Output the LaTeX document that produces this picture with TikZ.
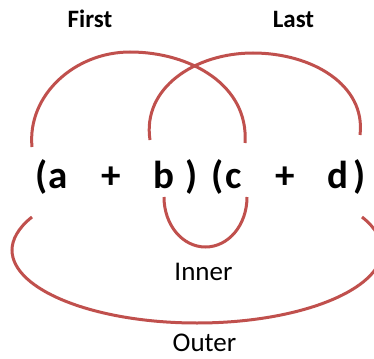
\documentclass[tikz,border=0pt]{standalone}
\usepackage{fontspec}
\setmainfont{Carlito}
\usetikzlibrary{positioning}
\definecolor{ArcRed}{HTML}{C0504D}

\begin{document}
\begin{tikzpicture}[x=1pt, y=-1pt,
    term/.style={font=\fontsize{39}{42}\selectfont\bfseries, inner sep=0pt, anchor=base},
    tag/.style={font=\fontsize{25}{28}\selectfont\bfseries, inner sep=0pt, anchor=base},
    pairtag/.style={font=\fontsize{27}{30}\selectfont, inner sep=0pt, anchor=base},
    foil/.style={draw=ArcRed, line width=3pt}
]
\useasboundingbox (0,0) rectangle (374,358);
\clip (0,0) rectangle (374,358);

% The product
\node[term] (lpA) at (42,188) {(};
\node[term] (a) at (58,188) {a};
\node[term] (plusA) at (111,188) {+};
\node[term] (b) at (164,188) {b};
\node[term] (rpA) at (191.5,188) {)};
\node[term] (lpB) at (217.5,188) {(};
\node[term] (c) at (234,188) {c};
\node[term] (plusB) at (285.5,188) {+};
\node[term] (d) at (338,188) {d};
\node[term] (rpB) at (360,188) {)};

% Labels
\node[tag] (first) at (90,28) {First};
\node[tag] (last) at (293.5,28) {Last};
\node[pairtag] (inner) at (203.5,280) {Inner};
\node[pairtag] (outer) at (204.5,351) {Outer};

% Arc ends
\coordinate (firstL) at (32,147);
\coordinate (firstT) at (130,52);
\coordinate (firstR) at (245,143);
\coordinate (lastL) at (150,140);
\coordinate (lastT) at (253,53);
\coordinate (lastR) at (360,135);
\coordinate (innerL) at (164,197);
\coordinate (innerB) at (205.5,247);
\coordinate (innerR) at (247,197);
\coordinate (outerL) at (32,217);
\coordinate (outerW) at (12,250);
\coordinate (outerB) at (197,323);
\coordinate (outerE) at (382,250);
\coordinate (outerR) at (362,217);

% First: a with c
\draw[foil] (firstL) .. controls (27,95) and (75,52) .. (firstT)
    .. controls (190,52) and (249,85) .. (firstR);
% Last: b with d
\draw[foil] (lastL) .. controls (142,88) and (195,53) .. (lastT)
    .. controls (312,53) and (366,85) .. (lastR);
% Inner: b with c
\draw[foil] (innerL) .. controls (164,225) and (182.5,247) .. (innerB)
    .. controls (228.5,247) and (247,225) .. (innerR);
% Outer: a with d
\draw[foil] (outerL) .. controls (18,228) and (12,240) .. (outerW)
    .. controls (12,290) and (95,323) .. (outerB)
    .. controls (299,323) and (382,290) .. (outerE)
    .. controls (382,240) and (376,228) .. (outerR);
\end{tikzpicture}
\end{document}
